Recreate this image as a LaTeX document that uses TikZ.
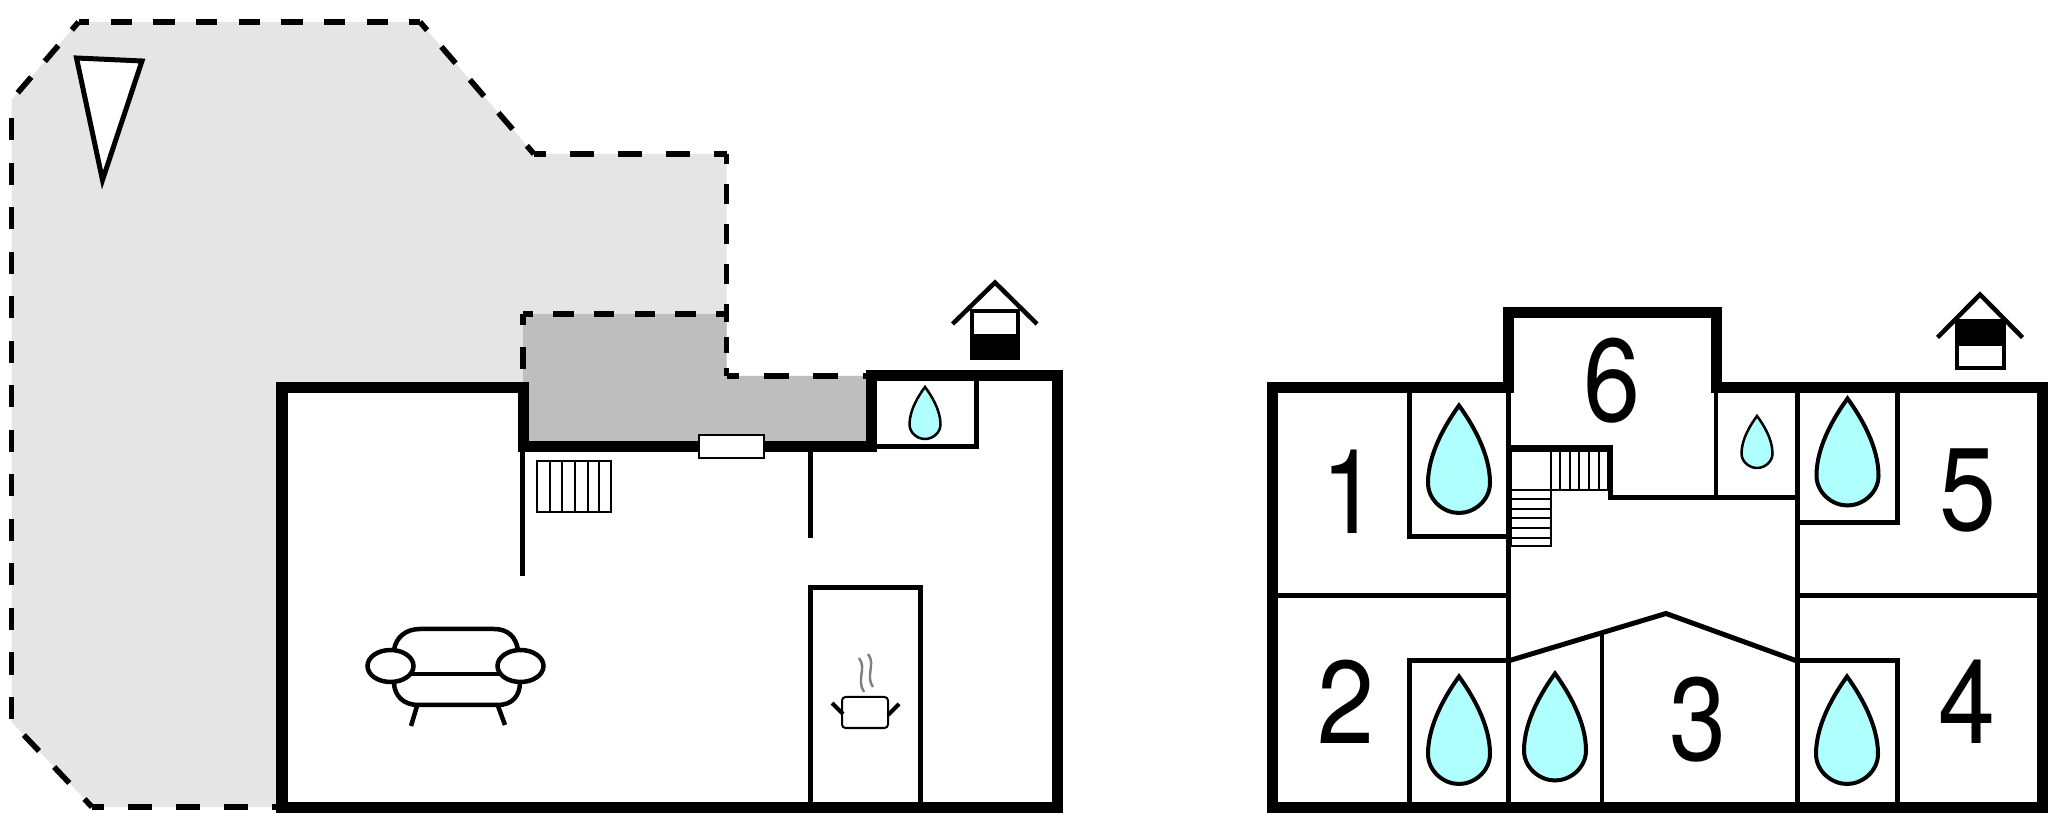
\documentclass[tikz,border=0pt]{standalone}
\usepackage{fontspec}
\setmainfont{TeX Gyre Heros}
\newfontfamily\roomfont[FakeStretch=0.87]{TeX Gyre Heros}
\definecolor{terrace}{HTML}{E5E5E5}
\definecolor{covered}{HTML}{BEBEBE}
\definecolor{water}{HTML}{AFFFFF}
\tikzset{
    thickwall/.style={line width=3.13pt, miter limit=10},
    wall/.style={line width=1.42pt},
    thinwall/.style={line width=1.14pt},
    fine/.style={line width=0.57pt},
    furniture/.style={line width=1.28pt},
    dashseg/.style={line width=1.6pt, dash pattern=on #1 off #1, dash phase=#1/2},
    roomno/.style={font=\roomfont\fontsize{33.5}{34}\selectfont, inner sep=0pt},
}
\newcommand{\wdrop}[5]{\draw[line width=#5, fill=water, shift={(#1,#2)}, xscale=#3, yscale=#4]
    (0,0) .. controls (0.4,0.16) and (1,0.44) .. (1,0.72)
    .. controls (1,0.88) and (0.5,1) .. (0,1)
    .. controls (-0.5,1) and (-1,0.88) .. (-1,0.72)
    .. controls (-1,0.44) and (-0.4,0.16) .. (0,0) -- cycle;}

\begin{document}
\begin{tikzpicture}[x=0.01cm,y=-0.01cm]
        \useasboundingbox (0,0) rectangle (2048,813);
        \coordinate (TA)    at (78.6,22);
        \coordinate (TB)    at (420,22);
        \coordinate (TC)    at (534,154);
        \coordinate (TD)    at (726.5,154);
        \coordinate (TE)    at (726.5,314);
        \coordinate (TF)    at (726.5,376);
        \coordinate (TG)    at (866,376);
        \coordinate (TH)    at (11.5,100);
        \coordinate (TI)    at (11.5,722);
        \coordinate (TJ)    at (92,807);
        \coordinate (TK)    at (278,807);
        \coordinate (CA)    at (523,314);
        \coordinate (CB)    at (523,382);
        % terrace
        \fill[terrace] (TA) -- (TB) -- (TC) -- (TD) -- (TF) -- (TG) -- (871,808) -- (TJ) -- (TI) -- (TH) -- cycle;
        \fill[covered] (CA) -- (TE) -- (TF) -- (TG) -- (871,447) -- (523,447) -- cycle;
        \draw[dashseg=6.07pt] (TA) -- (TB);
        \draw[dashseg=5.9pt] (TA) -- (TH);
        \draw[dashseg=6.2pt] (TB) -- (TC);
        \draw[dashseg=6.83pt] (TC) -- (TD);
        \draw[dashseg=5.69pt] (TD) -- (TE);
        \draw[dashseg=4.41pt] (TE) -- (TF);
        \draw[dashseg=7.06pt] (TF) -- (TG);
        \draw[dashseg=5.78pt] (CA) -- (TE);
        \draw[dashseg=6.26pt] (CA) -- (CB);
        \draw[dashseg=6.33pt, dash phase=7.54pt] (TH) -- (TI);
        \draw[dashseg=6.26pt] (TJ) -- (TI);
        \draw[dashseg=6.83pt] (TJ) -- (TK);
        % north mark
        \draw[wall, fill=white] (76.5,58) -- (142,61) -- (102.5,180) -- cycle;
        % ground floor
        \draw[thickwall, fill=white] (282,808) -- (282,387.5) -- (523,387.5) -- (523,447) -- (871.5,447) -- (871.5,375.5) -- (1057,375.5) -- (1057,808) -- cycle;
        \draw[wall] (871.5,446.5) -- (976.5,446.5) -- (976.5,380);
        \draw[wall] (522,451) -- (522,576);
        \draw[wall] (810,451) -- (810,538);
        \draw[line width=0.7pt, fill=white] (699,435) rectangle (764,458);
        \wdrop{925}{387}{15.5}{52}{0.71pt}
        % stairs
        \draw[fine] (536.5,461) rectangle (611,512);
        \draw[fine] (550,461) -- (550,512) (562,461) -- (562,512) (575,461) -- (575,512) (588,461) -- (588,512) (599,461) -- (599,512);
        % kitchen
        \draw[wall] (810,802) -- (810,588) -- (920,588) -- (920,802);
        \draw[fine, rounded corners=1pt] (842,697) -- (842,728) -- (888,728) -- (888,697) -- cycle;
        \draw[line width=1.2pt] (832,703) -- (843,714);
        \draw[line width=1.2pt] (899,704) -- (888,715);
        \draw[line width=0.7pt, gray] (859,658) .. controls (867,668) and (856,680) .. (864,692);
        \draw[line width=0.7pt, gray] (868,654) .. controls (876,664) and (865,676) .. (873,687);
        % sofa
        \draw[furniture] (390.5,666) ellipse (23 and 16);
        \draw[furniture] (520.5,666) ellipse (23 and 16);
        \draw[furniture] (394,650) .. controls (396,637) and (406,629) .. (420,629) -- (494,629) .. controls (508,629) and (516,637) .. (518,650);
        \draw[furniture] (411,674) -- (501,674);
        \draw[furniture] (394,682) .. controls (394,696) and (404,705) .. (418,705) -- (498,705) .. controls (512,705) and (520,696) .. (520,682);
        \draw[furniture] (417,706) -- (411,726);
        \draw[furniture] (498,706) -- (505,725);
        % entrance, left
        \draw[furniture] (952.5,324) -- (995,282.5) -- (1037,324);
        \draw[thinwall, fill=white] (972,311) rectangle (1018,358);
        \fill (972,334) rectangle (1018,358);
        % first floor
        \draw[thickwall, fill=white] (1272,808) -- (1272,388) -- (1508,388) -- (1508,312.5) -- (1716.5,312.5) -- (1716.5,388) -- (2042.5,388) -- (2042.5,808) -- cycle;
        \draw[wall] (1409,393) -- (1409,537) -- (1508,537);
        \draw[wall] (1508,393) -- (1508,802);
        \draw[wall] (1508,447.5) -- (1610.5,447.5) -- (1610.5,498) -- (1797,498);
        \draw[thinwall] (1716,393) -- (1716,498);
        \draw[wall] (1797,393) -- (1797,802);
        \draw[wall] (1797,522.5) -- (1897,522.5) -- (1897,393);
        \draw[wall] (1277,595.5) -- (1508,595.5);
        \draw[wall] (1797,595.5) -- (2037,595.5);
        \draw[wall] (1409,802) -- (1409,660.5) -- (1508,660.5);
        \draw[wall] (1508,661) -- (1666,613.5) -- (1797,661);
        \draw[thinwall] (1601.5,633) -- (1601.5,802);
        \draw[wall] (1797,660.5) -- (1897,660.5) -- (1897,802);
        \wdrop{1459}{405.5}{31}{107.5}{1.14pt}
        \wdrop{1847.5}{398.5}{31}{107}{1.14pt}
        \wdrop{1757}{416}{15.5}{52}{0.71pt}
        \wdrop{1459}{676.5}{31}{107.5}{1.14pt}
        \wdrop{1555}{673.5}{31}{107}{1.14pt}
        \wdrop{1847}{676.5}{31}{107.5}{1.14pt}
        % stairs
        \draw[fine] (1511,451.5) rectangle (1607.5,490.5);
        \draw[fine] (1511,490.5) rectangle (1550.5,546.5);
        \draw[fine] (1550.5,451.5) -- (1550.5,490.5) (1560,451.5) -- (1560,490.5) (1569.5,451.5) -- (1569.5,490.5) (1579,451.5) -- (1579,490.5) (1588.5,451.5) -- (1588.5,490.5) (1598.5,451.5) -- (1598.5,490.5);
        \draw[fine] (1511,499.5) -- (1550.5,499.5) (1511,509) -- (1550.5,509) (1511,518.5) -- (1550.5,518.5) (1511,528.5) -- (1550.5,528.5) (1511,538) -- (1550.5,538);
        % entrance, right
        \draw[furniture] (1937.5,337.5) -- (1980,294.5) -- (2022.5,337.5);
        \draw[thinwall, fill=white] (1957,321.5) rectangle (2003.5,368.5);
        \fill (1957,321.5) rectangle (2003.5,346);
        % room numbers
        \node[roomno] (roomA) at (1350,491.5) {1};
        \node[roomno] (roomB) at (1345.5,701.5) {2};
        \node[roomno] (roomC) at (1698,720) {3};
        \node[roomno] (roomD) at (1967,701.5) {4};
        \node[roomno] (roomE) at (1968,491) {5};
        \node[roomno] (roomF) at (1612,380.5) {6};
    \end{tikzpicture}
\end{document}
